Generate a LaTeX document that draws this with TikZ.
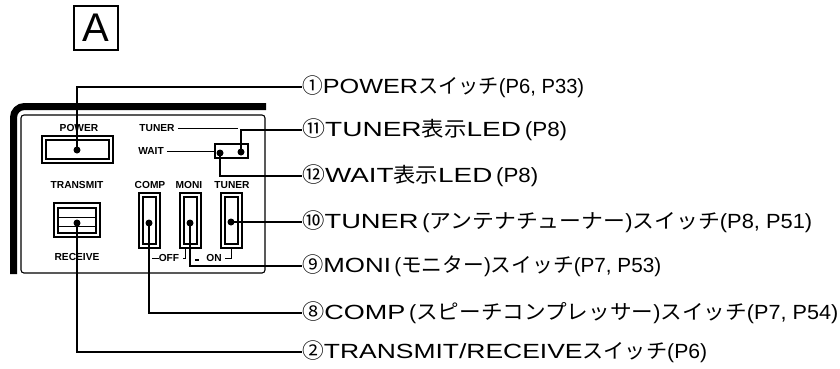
\documentclass[tikz,border=0pt]{standalone}
\usepackage{fontspec}
\setmainfont{Liberation Sans}
\newfontfamily\cjk{Noto Sans CJK JP}
\newfontfamily\lat[FakeStretch=1.25]{Liberation Sans}
\newcommand{\lbl}[2]{\resizebox{#1pt}{\height}{\fontsize{20.5}{20.5}\selectfont #2}}
\newcommand{\circnum}[1]{{\cjk\fontsize{21}{21}\selectfont #1}}
\tikzset{x=1pt,y=-1pt,
  conn/.style={draw,line width=1.1pt},
  dotn/.style={circle,fill,inner sep=0pt,minimum size=7pt},
  panellbl/.style={font=\bfseries\fontsize{10.2}{10.2}\selectfont,inner sep=0pt},
  callout/.style={anchor=west,inner sep=0pt},
  box/.style={draw,line width=1.1pt}}
\begin{document}
\begin{tikzpicture}
\useasboundingbox (0,0) rectangle (840,368);
% letter box
\node[draw,line width=1.4pt,minimum width=44pt,minimum height=44pt,inner sep=0pt,font=\fontsize{40}{40}\selectfont] (letter) at (96,28) {A};
% panel
\draw[line width=7pt,rounded corners=11pt] (13.5,274) -- (13.5,106.5) -- (266,106.5);
\draw[line width=1.1pt,rounded corners=3pt] (21,115) -- (265,115) -- (265,273) -- (21,273) -- cycle;
% power
\draw[box] (42,136) rectangle (113,163);
\draw[box] (46,140) rectangle (109,159);
% LED
\draw[box] (215,144) rectangle (248,158);
% transmit
\draw[box] (54,203) rectangle (100,237);
\draw[box] (58,208) rectangle (96,233);
\draw[line width=.8pt] (58,217) -- (96,217) (58,226) -- (96,226);
% sliders
\foreach \xa/\xb/\xc/\xd in {139/160/143/156,180/201/184/197,221/242/225/238}{
  \draw[box] (\xa,193) rectangle (\xb,248);
  \draw[box] (\xc,197) rectangle (\xd,244);
}
% panel labels
\node[panellbl] (lpower) at (79,128) {POWER};
\node[panellbl] (ltuner) at (157,128) {TUNER};
\node[panellbl] (lwait) at (151,151) {WAIT};
\node[panellbl] (ltrans) at (77,185) {TRANSMIT};
\node[panellbl] (lrec) at (77,257) {RECEIVE};
\node[panellbl] (lcomp) at (150,185) {COMP};
\node[panellbl] (lmoni) at (189,185) {MONI};
\node[panellbl] (ltun2) at (232,185) {TUNER};
\node[panellbl] (loff) at (169,258) {OFF};
\node[panellbl] (lon) at (214,258) {ON};
\draw[line width=.9pt] (152,258) -- (loff.west);
\draw[line width=.9pt] (225,258) -- (231,258) -- (231,248);
\draw[line width=.9pt] (185,248) -- (185,258) -- (183,258);
\fill (195,259) rectangle (199,261);
\draw[line width=.9pt] (ltuner.east) ++(3,0) -- (238,128);
\draw[line width=.9pt] (lwait.east) ++(3,0) -- (215,151);
% dots
\node[dotn] (d1) at (77,150) {};
\node[dotn] (d11) at (241,152) {};
\node[dotn] (d12) at (220,153) {};
\node[dotn] (d10) at (231,222) {};
\node[dotn] (d9) at (190,223) {};
\node[dotn] (d8) at (149,223) {};
\node[dotn] (d2) at (77,223) {};
% callouts
\node[callout] (t1) at (302,87) {\lbl{282}{\circnum{①}{\lat POWER}{\cjk スイッチ}(P6, P33)}};
\node[callout] (t11) at (302,130) {\lbl{265}{\circnum{⑪}{\lat TUNER}{\cjk 表示}{\lat LED}\,(P8)}};
\node[callout] (t12) at (302,176) {\lbl{236}{\circnum{⑫}{\lat WAIT}{\cjk 表示}{\lat LED}\,(P8)}};
\node[callout] (t10) at (302,222) {\lbl{510}{\circnum{⑩}{\lat TUNER}\,({\cjk アンテナチューナー}){\cjk スイッチ}(P8, P51)}};
\node[callout] (t9) at (302,266) {\lbl{359}{\circnum{⑨}{\lat MONI}\,({\cjk モニター}){\cjk スイッチ}(P7, P53)}};
\node[callout] (t8) at (302,313) {\lbl{536}{\circnum{⑧}{\lat COMP}\,({\cjk スピーチコンプレッサー}){\cjk スイッチ}(P7, P54)}};
\node[callout] (t2) at (302,352) {\lbl{405}{\circnum{②}{\lat TRANSMIT/RECEIVE}{\cjk スイッチ}(P6)}};
% connectors
\draw[conn] (d1.center) |- (t1.west);
\draw[conn] (d11.center) |- (t11.west);
\draw[conn] (d12.center) |- (t12.west);
\draw[conn] (d10.center) -- (t10.west);
\draw[conn] (d9.center) |- (t9.west);
\draw[conn] (d8.center) |- (t8.west);
\draw[conn] (d2.center) |- (t2.west);
\end{tikzpicture}
\end{document}
